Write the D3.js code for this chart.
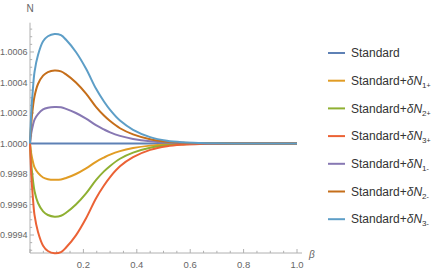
<!DOCTYPE html>
<html>
<head>
<meta charset="utf-8">
<script src="https://cdn.jsdelivr.net/npm/d3@7"></script>
<style>
  body { margin: 0; background: #fff; }
  svg { display: block; font-family: "Liberation Sans", Arial, sans-serif; }
</style>
</head>
<body>
<div id="root"></div>
<script>
// beta sample points
const beta = [0, 0.005, 0.011, 0.017, 0.03, 0.049, 0.067, 0.092, 0.116, 0.135, 0.172, 0.21, 0.247,
              0.277, 0.30, 0.337, 0.386, 0.45, 0.513, 0.573, 0.637, 0.7, 0.8, 0.9, 1.0];

// N values for each curve
const standard = beta.map(() => 1.0);
const n1plus  = [1, 0.999930, 0.999880, 0.999843, 0.999807, 0.999777, 0.999766, 0.999762, 0.999764, 0.999774,
                 0.999800, 0.999837, 0.999880, 0.999908, 0.999927, 0.999950, 0.999970, 0.999986, 0.999994, 0.999997,
                 0.999999, 0.9999995, 1, 1, 1];
const n2plus  = [1, 0.999860, 0.999760, 0.999687, 0.999610, 0.999555, 0.999531, 0.999520, 0.999526, 0.999546,
                 0.999600, 0.999673, 0.999760, 0.999817, 0.999853, 0.999900, 0.999940, 0.999972, 0.999988, 0.999995,
                 0.999998, 0.999999, 0.9999997, 1, 1];
const n3plus  = [1, 0.999790, 0.999640, 0.999530, 0.999420, 0.999330, 0.999295, 0.999280, 0.999288, 0.999318,
                 0.999398, 0.999510, 0.999640, 0.999725, 0.999780, 0.999850, 0.999910, 0.999958, 0.999982, 0.999992,
                 0.999997, 0.9999985, 0.9999995, 1, 1];
const n1minus = [1, 1.000070, 1.000120, 1.000157, 1.000193, 1.000223, 1.000234, 1.000239, 1.000237, 1.000227,
                 1.000200, 1.000163, 1.000120, 1.000092, 1.000073, 1.000050, 1.000030, 1.000014, 1.000006, 1.000003,
                 1.000001, 1.0000005, 1, 1, 1];
const n2minus = [1, 1.000140, 1.000240, 1.000310, 1.000390, 1.000445, 1.000468, 1.000479, 1.000473, 1.000453,
                 1.000400, 1.000327, 1.000240, 1.000183, 1.000147, 1.000100, 1.000060, 1.000028, 1.000012, 1.000005,
                 1.000002, 1.000001, 1.0000003, 1, 1];
const n3minus = [1, 1.000210, 1.000360, 1.000470, 1.000580, 1.000670, 1.000703, 1.000718, 1.000710, 1.000680,
                 1.000600, 1.000490, 1.000360, 1.000275, 1.000220, 1.000150, 1.000090, 1.000042, 1.000018, 1.000008,
                 1.0000035, 1.0000015, 1.0000005, 1, 1];

const seriesNames = ['Standard', '1+', '2+', '3+', '1-', '2-', '3-'];
const seriesValues = [standard, n1plus, n2plus, n3plus, n1minus, n2minus, n3minus];
const colors = ['#5E81B5', '#E19C24', '#8FB032', '#EB6235', '#8778B3', '#C56E1A', '#5D9EC7'];

const xTicks = [0.2, 0.4, 0.6, 0.8, 1.0];
const yTicks = [0.9994, 0.9996, 0.9998, 1.0000, 1.0002, 1.0004, 1.0006];

const w = 436, h = 273;
const svg = d3.select('#root').append('svg').attr('width', w).attr('height', h);

const x = d3.scaleLinear().domain([0, 1.0187]).range([30, 302]);
const y = d3.scaleLinear().domain([0.999282, 1.000792]).range([253, 22.7]);

const axisColor = '#b0b0b0';
const labelColor = '#666';

// x axis with inward ticks
const xAxis = svg.append('g').attr('transform', `translate(0,${y.range()[0]})`);
xAxis.append('line').attr('x1', x(0)).attr('x2', x.range()[1]).attr('stroke', axisColor);
const xMinor = d3.range(0, 1.0001, 0.05);
xAxis.selectAll('.xminor').data(xMinor).enter().append('line')
  .attr('x1', d => x(d)).attr('x2', d => x(d))
  .attr('y1', 0).attr('y2', d => (Math.abs(d / 0.2 - Math.round(d / 0.2)) < 1e-6 ? -4 : -2.2))
  .attr('stroke', axisColor);
xAxis.selectAll('text').data(xTicks).enter().append('text')
  .attr('x', d => x(d)).attr('y', 14.5)
  .attr('text-anchor', 'middle').attr('font-size', 9.5).attr('fill', labelColor)
  .text(d => d.toFixed(1));

// y axis with inward ticks
const yAxis = svg.append('g').attr('transform', `translate(${x(0)},0)`);
yAxis.append('line').attr('y1', y.range()[0]).attr('y2', y.range()[1]).attr('stroke', axisColor);
const yMinor = d3.range(0.99930, 1.000791, 0.00005);
yAxis.selectAll('.yminor').data(yMinor).enter().append('line')
  .attr('y1', d => y(d)).attr('y2', d => y(d))
  .attr('x1', 0).attr('x2', d => (Math.abs(d / 0.0002 - Math.round(d / 0.0002)) < 1e-6 ? 4 : 2.2))
  .attr('stroke', axisColor);
yAxis.selectAll('text').data(yTicks).enter().append('text')
  .attr('x', -2.5).attr('y', d => y(d) + 3.3)
  .attr('text-anchor', 'end').attr('font-size', 9).attr('fill', labelColor)
  .text(d => d.toFixed(4));

svg.append('text').attr('x', x(0)).attr('y', 12).attr('text-anchor', 'middle')
  .attr('font-size', 10).attr('fill', labelColor).text('N');
svg.append('text').attr('x', 309).attr('y', 258).attr('font-size', 10)
  .attr('font-style', 'italic').attr('fill', labelColor).text('β');

// curves
const line = d3.line().x(d => x(d[0])).y(d => y(d[1])).curve(d3.curveCatmullRom.alpha(0.5));
seriesValues.forEach((vals, i) => {
  svg.append('path')
    .datum(beta.map((b, j) => [b, vals[j]]))
    .attr('d', line)
    .attr('fill', 'none')
    .attr('stroke', colors[i])
    .attr('stroke-width', 2);
});

// legend
const legend = svg.append('g');
seriesNames.forEach((name, i) => {
  const ly = 53 + i * 27.7;
  legend.append('line').attr('x1', 328).attr('x2', 345).attr('y1', ly).attr('y2', ly)
    .attr('stroke', colors[i]).attr('stroke-width', 2);
  const t = legend.append('text').attr('x', 351).attr('y', ly + 4.2)
    .attr('font-size', 12).attr('fill', '#333');
  if (i === 0) {
    t.text(name);
  } else {
    t.append('tspan').text('Standard+');
    t.append('tspan').attr('font-style', 'italic').text('δ');
    t.append('tspan').attr('font-style', 'italic').text('N');
    t.append('tspan').attr('font-size', 8).attr('dy', 3).text(name[0]);
    t.append('tspan').attr('font-size', 7).text(name[1] === '+' ? '+' : '-');
  }
});
</script>
</body>
</html>
